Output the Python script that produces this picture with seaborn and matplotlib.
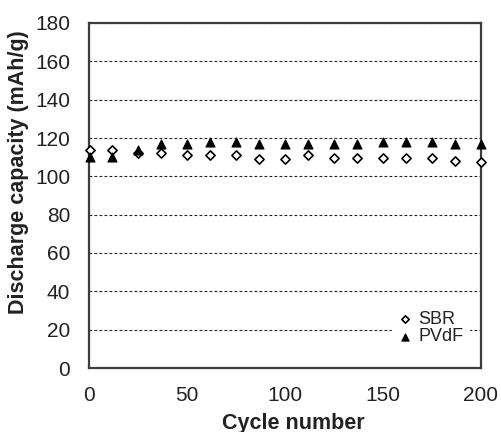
import matplotlib
matplotlib.use("Agg")
import matplotlib.pyplot as plt
import seaborn as sns
import pandas as pd
from matplotlib.ticker import MultipleLocator

cycles = [1, 12, 25, 37, 50, 62, 75, 87, 100, 112, 125, 137, 150, 162, 175, 187, 200]
sbr = [113.5, 113.5, 112, 112, 111, 111, 111, 109, 109, 111, 109.5, 109.5, 109.5, 109.5, 109.5, 108, 107.5]
pvdf = [110, 110, 114, 117, 117, 118, 118, 117, 117, 117, 117, 117, 118, 118, 118, 117, 117]
series_names = ["SBR", "PVdF"]

df_sbr = pd.DataFrame({"cycle": cycles, "capacity": sbr})
df_pvdf = pd.DataFrame({"cycle": cycles, "capacity": pvdf})

sns.set_style("white")
plt.rcParams["font.family"] = ["Liberation Sans", "DejaVu Sans"]

W, H = 501, 432
L, R, B, T = 88.5, 481, 368, 23
fig = plt.figure(figsize=(W / 100, H / 100), dpi=100)
ax = fig.add_axes([L / W, 1 - B / H, (R - L) / W, (B - T) / H])

sns.scatterplot(data=df_sbr, x="cycle", y="capacity", marker="D", color="white",
                edgecolor="black", linewidth=1.2, s=22, ax=ax, label=series_names[0],
                zorder=3, clip_on=False)
sns.scatterplot(data=df_pvdf, x="cycle", y="capacity", marker="^", color="black",
                edgecolor="black", linewidth=0.8, s=42, ax=ax, label=series_names[1],
                zorder=3, clip_on=False)

ax.set_xlim(0, 200)
ax.set_ylim(0, 180)
ax.xaxis.set_major_locator(MultipleLocator(50))
ax.xaxis.set_minor_locator(MultipleLocator(10))
ax.yaxis.set_major_locator(MultipleLocator(20))
ax.yaxis.set_minor_locator(MultipleLocator(5))

ax.tick_params(axis="both", which="major", direction="inout", length=8.5, width=1.3,
               labelsize=15, color="#333333", labelcolor="#222222", pad=9)
ax.tick_params(axis="both", which="minor", direction="in", length=3.8, width=1.0, color="#333333")
ax.tick_params(top=False, right=False, which="both")

for sp in ax.spines.values():
    sp.set_color("#3c3c3c")
    sp.set_linewidth(1.6)
    sp.set_visible(True)

ax.yaxis.grid(True, which="major", linestyle=(0, (2.5, 2)), color="#222222", linewidth=0.8)
ax.xaxis.grid(False)
ax.set_axisbelow(True)

ax.set_xlabel("Cycle number", fontsize=15.5, fontweight="bold", color="#222222")
ax.set_ylabel("Discharge capacity (mAh/g)", fontsize=15.5, fontweight="bold", color="#222222")
ax.xaxis.set_label_coords((293 - L) / (R - L), -(423 - B) / (B - T), transform=ax.transAxes)
ax.xaxis.label.set_va("center")
ax.yaxis.set_label_coords(-(L - 19) / (R - L), (B - 172) / (B - T), transform=ax.transAxes)
ax.yaxis.label.set_va("center")

leg = ax.legend(title=None, loc="center left",
                bbox_to_anchor=((392 - L) / (R - L), (B - 328) / (B - T)),
                frameon=True, fontsize=13, handletextpad=0.35, borderpad=0.3,
                labelspacing=0.05, handlelength=0.8, markerscale=0.8, borderaxespad=0)
leg.get_frame().set_facecolor("white")
leg.get_frame().set_edgecolor("white")
leg.get_frame().set_alpha(1)
leg.get_frame().set_boxstyle("square", pad=0)
for t in leg.get_texts():
    t.set_color("#222222")

fig.savefig("out.png", dpi=100)
